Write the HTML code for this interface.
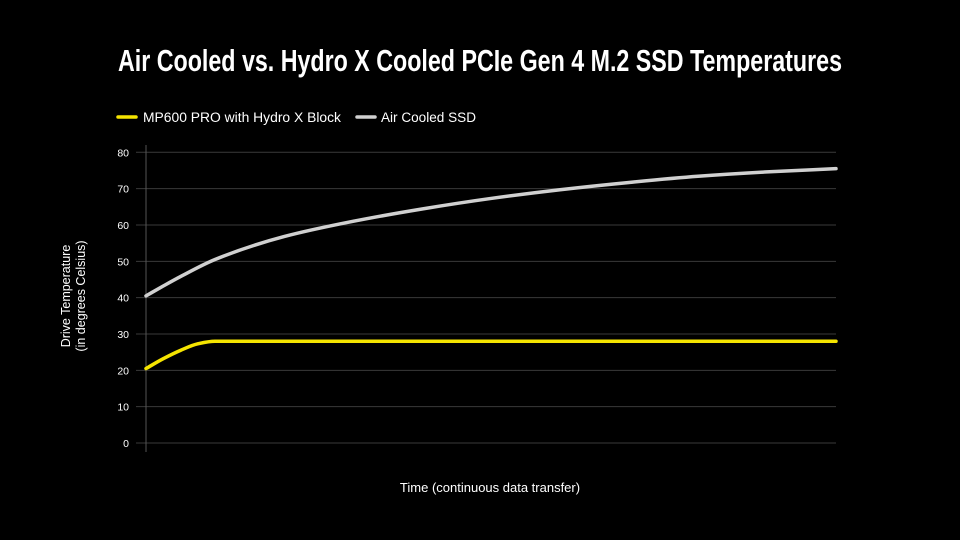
<!DOCTYPE html>
<html><head><meta charset="utf-8"><style>
html,body{margin:0;padding:0;background:#000;}
svg{display:block;font-family:"Liberation Sans",sans-serif;}
</style></head><body>
<svg id="chart" width="960" height="540" viewBox="0 0 960 540">
<rect width="960" height="540" fill="#000"/>
<text x="480" y="71" text-anchor="middle" fill="#fff" font-family="'Liberation Sans Narrow','Liberation Sans',sans-serif" font-weight="bold" font-size="31" textLength="724" lengthAdjust="spacingAndGlyphs">Air Cooled vs. Hydro X Cooled PCIe Gen 4 M.2 SSD Temperatures</text>
<g>
<g><line x1="118" y1="117" x2="136" y2="117" stroke="#f5e400" stroke-width="3.5" stroke-linecap="round"/><text x="143" y="122" fill="#fff" font-size="13.5" textLength="198" lengthAdjust="spacingAndGlyphs">MP600 PRO with Hydro X Block</text></g>
<g><line x1="357" y1="117" x2="375" y2="117" stroke="#d0d0d0" stroke-width="3.5" stroke-linecap="round"/><text x="381" y="122" fill="#fff" font-size="13.5" textLength="95" lengthAdjust="spacingAndGlyphs">Air Cooled SSD</text></g>
</g>
<g id="grid"></g>
<g id="yticks"></g>
<line x1="146" y1="145" x2="146" y2="452" stroke="#555" stroke-width="1"/>
<g id="series"></g>
<text transform="translate(70,296) rotate(-90)" text-anchor="middle" fill="#fff" font-size="12.5"><tspan x="0" dy="0">Drive Temperature</tspan><tspan x="0" dy="15">(in degrees Celsius)</tspan></text>
<text x="490" y="492" text-anchor="middle" fill="#fff" font-size="13">Time (continuous data transfer)</text>
</svg>
<script>
const yTicks = [0,10,20,30,40,50,60,70,80];
const airTime = [0,2.5,5,10,20,30,40,50,60,70,80,90,100];
const airTemps = [40.5,43.2,45.8,50.5,56.8,61,64.4,67.3,69.7,71.7,73.4,74.6,75.5];
const hydroTime = [0,2.5,5,7.5,10,100];
const hydroTemps = [20.5,23.2,25.5,27.3,28,28];
const NS='http://www.w3.org/2000/svg';
const xS = t => 146 + t/100*690;
const yS = v => 443 - v*(443-152.3)/80;
const grid=document.getElementById('grid'), yt=document.getElementById('yticks'), ser=document.getElementById('series');
yTicks.forEach(v=>{
  const l=document.createElementNS(NS,'line');
  l.setAttribute('x1',136);l.setAttribute('x2',836);
  l.setAttribute('y1',yS(v));l.setAttribute('y2',yS(v));
  l.setAttribute('stroke','#3a3a3a');l.setAttribute('stroke-width','1');
  
  
  grid.appendChild(l);
  const t=document.createElementNS(NS,'text');
  t.setAttribute('x',129);t.setAttribute('y',yS(v)+4);
  t.setAttribute('text-anchor','end');t.setAttribute('fill','#fff');t.setAttribute('font-size','10.5');
  t.textContent=v;
  
  
  yt.appendChild(t);
});
function monoPath(xs,ys){
  const X=xs.map(xS), Y=ys.map(yS), n=X.length;
  const d=[],m=new Array(n);
  for(let i=0;i<n-1;i++) d.push((Y[i+1]-Y[i])/(X[i+1]-X[i]));
  m[0]=d[0]; m[n-1]=d[n-2];
  for(let i=1;i<n-1;i++){
    if(d[i-1]*d[i]<=0) m[i]=0;
    else { const h0=X[i]-X[i-1],h1=X[i+1]-X[i]; const w1=2*h1+h0,w2=h1+2*h0; m[i]=(w1+w2)/(w1/d[i-1]+w2/d[i]); }
  }
  let s='M'+X[0]+','+Y[0];
  for(let i=0;i<n-1;i++){
    const h=(X[i+1]-X[i])/3;
    s+=' C'+(X[i]+h)+','+(Y[i]+m[i]*h)+' '+(X[i+1]-h)+','+(Y[i+1]-m[i+1]*h)+' '+X[i+1]+','+Y[i+1];
  }
  return s;
}
const air=document.createElementNS(NS,'path');
air.setAttribute('d',monoPath(airTime,airTemps));
air.setAttribute('fill','none');air.setAttribute('stroke','#d0d0d0');air.setAttribute('stroke-width','3.5');air.setAttribute('stroke-linecap','round');


ser.appendChild(air);
const hy=document.createElementNS(NS,'path');
hy.setAttribute('d',monoPath(hydroTime,hydroTemps));
hy.setAttribute('fill','none');hy.setAttribute('stroke','#f5e400');hy.setAttribute('stroke-width','3.5');hy.setAttribute('stroke-linecap','round');


ser.appendChild(hy);
</script>
</body></html>
